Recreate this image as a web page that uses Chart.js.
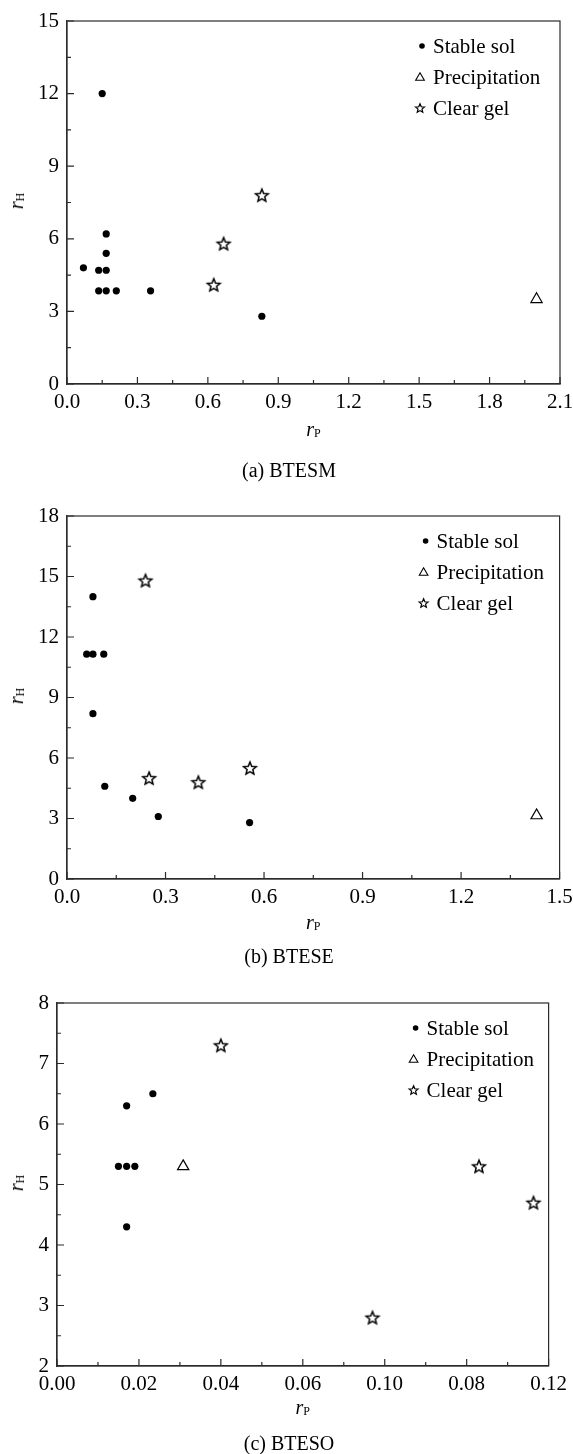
<!DOCTYPE html>
<html>
<head>
<meta charset="utf-8">
<title>rH vs rP</title>
<script src="https://cdn.jsdelivr.net/npm/chart.js@4.4.1/dist/chart.umd.min.js"></script>
<style>
  html, body { margin: 0; padding: 0; background: #fff; }
  body { position: relative; width: 573px; height: 1454px; overflow: hidden;
         font-family: "Liberation Serif", "Times New Roman", serif; color: #000; }
  canvas { position: absolute; left: 0; }
  .lbl { position: absolute; font-size: 20px; line-height: 20px; white-space: nowrap; }
  .lbl i { font-style: italic; }
  .lbl sub { font-size: 12px; line-height: 0; vertical-align: -1px; font-style: normal; }
</style>
</head>
<body>
<canvas id="chartA" width="573" height="440" style="top:0px"></canvas>
<canvas id="chartB" width="573" height="440" style="top:495px"></canvas>
<canvas id="chartC" width="573" height="440" style="top:982px"></canvas>
<script>
const seriesNames = ['Stable sol', 'Precipitation', 'Clear gel'];

// (a) BTESM
const aSolX = [0.07, 0.135, 0.135, 0.15, 0.167, 0.167, 0.167, 0.167, 0.21, 0.356, 0.83];
const aSolY = [4.8, 4.7, 3.85, 12, 6.2, 5.4, 4.7, 3.85, 3.85, 3.85, 2.8];
const aPreX = [2.0];
const aPreY = [3.5];
const aGelX = [0.625, 0.667, 0.83];
const aGelY = [4.1, 5.8, 7.8];
const aXTicks = [0, 0.3, 0.6, 0.9, 1.2, 1.5, 1.8, 2.1];
const aXLabels = ['0.0', '0.3', '0.6', '0.9', '1.2', '1.5', '1.8', '2.1'];
const aYTicks = [0, 3, 6, 9, 12, 15];
const aYLabels = ['0', '3', '6', '9', '12', '15'];

// (b) BTESE
const bSolX = [0.06, 0.079, 0.079, 0.079, 0.112, 0.115, 0.2, 0.278, 0.556];
const bSolY = [11.15, 14, 11.15, 8.2, 11.15, 4.6, 4.0, 3.1, 2.8];
const bPreX = [1.43];
const bPreY = [3.15];
const bGelX = [0.239, 0.25, 0.4, 0.557];
const bGelY = [14.8, 5.0, 4.8, 5.5];
const bXTicks = [0, 0.3, 0.6, 0.9, 1.2, 1.5];
const bXLabels = ['0.0', '0.3', '0.6', '0.9', '1.2', '1.5'];
const bYTicks = [0, 3, 6, 9, 12, 15, 18];
const bYLabels = ['0', '3', '6', '9', '12', '15', '18'];

// (c) BTESO -- the source prints 0.10 and 0.08 in swapped places, kept as is
const cSolX = [0.015, 0.017, 0.017, 0.017, 0.019, 0.0234];
const cSolY = [5.3, 6.3, 5.3, 4.3, 5.3, 6.5];
const cPreX = [0.0308];
const cPreY = [5.3];
const cGelX = [0.04, 0.077, 0.103, 0.1163];
const cGelY = [7.3, 2.8, 5.3, 4.7];
const cXTicks = [0, 0.02, 0.04, 0.06, 0.08, 0.10, 0.12];
const cXLabels = ['0.00', '0.02', '0.04', '0.06', '0.10', '0.08', '0.12'];
const cYTicks = [2, 3, 4, 5, 6, 7, 8];
const cYLabels = ['2', '3', '4', '5', '6', '7', '8'];

const FONT = '"Liberation Serif", "Times New Roman", serif';
const INK = '#000';
const AXIS = '#2b2b2b';

function pts(xs, ys) {
  return xs.map((x, i) => ({ x: x, y: ys[i] }));
}

function starPath(ctx, cx, cy, R, r) {
  ctx.beginPath();
  for (let i = 0; i < 10; i++) {
    const rad = i % 2 ? r : R;
    const ang = -Math.PI / 2 + i * Math.PI / 5;
    const px = cx + rad * Math.cos(ang);
    const py = cy + rad * Math.sin(ang);
    if (i === 0) ctx.moveTo(px, py); else ctx.lineTo(px, py);
  }
  ctx.closePath();
}

function starImage(R, r, lw) {
  const c = document.createElement('canvas');
  const s = Math.ceil(2 * R + 4);
  c.width = s;
  c.height = s;
  const g = c.getContext('2d');
  starPath(g, s / 2, s / 2 + 0.6, R, r);
  g.lineWidth = lw;
  g.strokeStyle = INK;
  g.stroke();
  return c;
}

const STAR = starImage(6.7, 3.0, 1.5);

// box with inward major / minor ticks on left and bottom
const framePlugin = {
  id: 'frame',
  afterDraw(chart) {
    const { ctx, chartArea: a, scales } = chart;
    ctx.save();
    ctx.strokeStyle = AXIS;
    ctx.lineWidth = 1.2;
    ctx.strokeRect(a.left, a.top, a.right - a.left, a.bottom - a.top);
    ctx.beginPath();
    const xv = scales.x.ticks.map(t => t.value);
    xv.forEach((v, i) => {
      const p = scales.x.getPixelForValue(v);
      ctx.moveTo(p, a.bottom);
      ctx.lineTo(p, a.bottom - 7);
      if (i < xv.length - 1) {
        const m = scales.x.getPixelForValue((v + xv[i + 1]) / 2);
        ctx.moveTo(m, a.bottom);
        ctx.lineTo(m, a.bottom - 4);
      }
    });
    const yv = scales.y.ticks.map(t => t.value);
    yv.forEach((v, i) => {
      const p = scales.y.getPixelForValue(v);
      ctx.moveTo(a.left, p);
      ctx.lineTo(a.left + 7, p);
      if (i < yv.length - 1) {
        const m = scales.y.getPixelForValue((v + yv[i + 1]) / 2);
        ctx.moveTo(a.left, m);
        ctx.lineTo(a.left + 4, m);
      }
    });
    ctx.stroke();
    ctx.restore();
  }
};

// legend inside the plot, top right
const keyPlugin = {
  id: 'key',
  afterDraw(chart, args, opts) {
    const { ctx, chartArea: a } = chart;
    const tx = a.right - opts.offset;
    ctx.save();
    ctx.font = '21px ' + FONT;
    ctx.fillStyle = INK;
    ctx.strokeStyle = INK;
    ctx.textBaseline = 'alphabetic';
    seriesNames.forEach((name, i) => {
      const cy = a.top + opts.first + i * opts.gap;
      const mx = tx - 13;
      ctx.beginPath();
      if (i === 0) {
        ctx.arc(mx + 2, cy, 2.8, 0, Math.PI * 2);
        ctx.fill();
      } else if (i === 1) {
        const r = 5;
        ctx.moveTo(mx, cy - r + 0.8);
        ctx.lineTo(mx + r * 0.866, cy + r * 0.5 + 0.8);
        ctx.lineTo(mx - r * 0.866, cy + r * 0.5 + 0.8);
        ctx.closePath();
        ctx.lineWidth = 1.1;
        ctx.stroke();
      } else {
        starPath(ctx, mx, cy + 0.5, 4.7, 2.1);
        ctx.lineWidth = 1.2;
        ctx.stroke();
      }
      ctx.fillText(name, tx, cy + 7);
    });
    ctx.restore();
  }
};

function axis(ticks, labels, pos, fit) {
  return {
    type: 'linear',
    position: pos,
    min: ticks[0],
    max: ticks[ticks.length - 1],
    afterBuildTicks: s => { s.ticks = ticks.map(v => ({ value: v })); },
    afterFit: s => {
      fit(s);
      s.paddingLeft = 0;
      s.paddingRight = 0;
      s.paddingTop = 0;
      s.paddingBottom = 0;
    },
    grid: { display: false, drawTicks: false },
    border: { display: true, color: AXIS, width: 1.2 },
    ticks: {
      padding: pos === 'bottom' ? 6 : 8,
      autoSkip: false,
      maxRotation: 0,
      color: INK,
      font: { family: FONT, size: 21 },
      callback: (v, i) => labels[i]
    }
  };
}

function makeChart(id, set, lay) {
  return new Chart(document.getElementById(id), {
    type: 'scatter',
    data: {
      datasets: [
        { label: seriesNames[0], data: pts(set.solX, set.solY), pointStyle: 'circle',
          pointRadius: 3.6, backgroundColor: INK, borderWidth: 0 },
        { label: seriesNames[1], data: pts(set.preX, set.preY), pointStyle: 'triangle',
          pointRadius: 6.5, backgroundColor: 'rgba(0,0,0,0)', borderColor: INK, borderWidth: 1.2 },
        { label: seriesNames[2], data: pts(set.gelX, set.gelY), pointStyle: STAR,
          pointRadius: 6.5, borderWidth: 0 }
      ]
    },
    options: {
      responsive: false,
      animation: false,
      events: [],
      layout: { padding: { top: 21, left: 0, right: lay.right, bottom: 16 } },
      plugins: {
        legend: { display: false },
        tooltip: { enabled: false },
        key: { offset: lay.keyOffset, first: 25, gap: 31 }
      },
      scales: {
        x: axis(set.xTicks, set.xLabels, 'bottom', s => { s.height = 40; }),
        y: axis(set.yTicks, set.yLabels, 'left', s => { s.width = lay.yw; })
      }
    },
    plugins: [framePlugin, keyPlugin]
  });
}

function addLabel(html, x, y, rotate) {
  const d = document.createElement('div');
  d.className = 'lbl';
  d.innerHTML = html;
  d.style.left = x + 'px';
  d.style.top = y + 'px';
  d.style.transform = rotate ? 'translate(-50%, -50%) rotate(-90deg)' : 'translateX(-50%)';
  document.body.appendChild(d);
}

const panels = [
  { id: 'chartA', top: 0, caption: '(a) BTESM', capBase: 476.5, titleGap: 52,
    set: { solX: aSolX, solY: aSolY, preX: aPreX, preY: aPreY, gelX: aGelX, gelY: aGelY,
           xTicks: aXTicks, xLabels: aXLabels, yTicks: aYTicks, yLabels: aYLabels },
    lay: { yw: 67, right: 13, keyOffset: 127 } },
  { id: 'chartB', top: 495, caption: '(b) BTESE', capBase: 963, titleGap: 50,
    set: { solX: bSolX, solY: bSolY, preX: bPreX, preY: bPreY, gelX: bGelX, gelY: bGelY,
           xTicks: bXTicks, xLabels: bXLabels, yTicks: bYTicks, yLabels: bYLabels },
    lay: { yw: 67, right: 13.4, keyOffset: 123 } },
  { id: 'chartC', top: 982, caption: '(c) BTESO', capBase: 1450, titleGap: 48,
    set: { solX: cSolX, solY: cSolY, preX: cPreX, preY: cPreY, gelX: cGelX, gelY: cGelY,
           xTicks: cXTicks, xLabels: cXLabels, yTicks: cYTicks, yLabels: cYLabels },
    lay: { yw: 57, right: 24.4, keyOffset: 122 } }
];

panels.forEach(p => {
  const chart = makeChart(p.id, p.set, p.lay);
  const a = chart.chartArea;
  const cx = (a.left + a.right) / 2;
  const cy = p.top + (a.top + a.bottom) / 2 - 1.5;
  addLabel('<i>r</i><sub>P</sub>', cx, p.top + a.bottom + p.titleGap - 16.75, false);
  addLabel('<i>r</i><sub>H</sub>', 15.75, cy, true);
  addLabel(p.caption, 289, p.capBase - 16.75, false);
});
</script>
</body>
</html>
